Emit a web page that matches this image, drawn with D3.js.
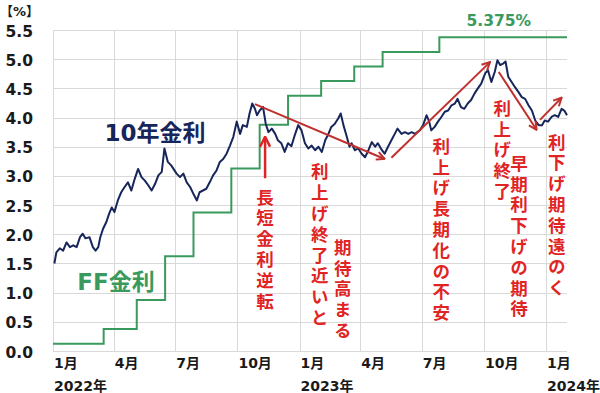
<!DOCTYPE html>
<html>
<head>
<meta charset="utf-8">
<script src="https://cdn.jsdelivr.net/npm/d3@7"></script>
<style>
  body { margin: 0; background: #fff; }
  text { font-family: "DejaVu Sans", "Noto Sans CJK JP", sans-serif; font-weight: bold; }
</style>
</head>
<body>
<script>
// 米10年金利
const yieldDates = [
  "2022-01-03","2022-01-06","2022-01-11","2022-01-16","2022-01-21","2022-01-26","2022-01-31",
  "2022-02-05","2022-02-10","2022-02-14","2022-02-18","2022-02-24","2022-03-01","2022-03-05",
  "2022-03-09","2022-03-12","2022-03-16","2022-03-21","2022-03-25","2022-03-29","2022-04-02",
  "2022-04-07","2022-04-12","2022-04-17","2022-04-22","2022-04-27","2022-05-02","2022-05-07",
  "2022-05-12","2022-05-17","2022-05-22","2022-05-27","2022-06-01","2022-06-06","2022-06-11",
  "2022-06-15","2022-06-20","2022-06-25","2022-07-03","2022-07-08","2022-07-13","2022-07-18",
  "2022-07-23","2022-07-28","2022-08-02","2022-08-06","2022-08-11","2022-08-16","2022-08-21",
  "2022-08-26","2022-08-31","2022-09-05","2022-09-10","2022-09-15","2022-09-20","2022-09-25",
  "2022-09-30","2022-10-05","2022-10-09","2022-10-15","2022-10-19","2022-10-23","2022-10-27",
  "2022-10-30","2022-11-03","2022-11-08","2022-11-12","2022-11-16","2022-11-21","2022-11-26",
  "2022-11-30","2022-12-05","2022-12-10","2022-12-15","2022-12-20","2022-12-25","2022-12-30",
  "2023-01-04","2023-01-09","2023-01-14","2023-01-19","2023-01-24","2023-01-29","2023-02-03",
  "2023-02-08","2023-02-12","2023-02-17","2023-02-22","2023-02-27","2023-03-03","2023-03-07",
  "2023-03-12","2023-03-16","2023-03-19","2023-03-24","2023-03-29","2023-04-03","2023-04-08",
  "2023-04-13","2023-04-18","2023-04-23","2023-04-27","2023-05-03","2023-05-07","2023-05-12",
  "2023-05-17","2023-05-22","2023-05-26","2023-06-01","2023-06-06","2023-06-11","2023-06-16",
  "2023-06-21","2023-06-28","2023-07-03","2023-07-08","2023-07-12","2023-07-15","2023-07-20",
  "2023-07-25","2023-07-30","2023-08-04","2023-08-09","2023-08-14","2023-08-19","2023-08-23",
  "2023-08-28","2023-09-02","2023-09-07","2023-09-12","2023-09-17","2023-09-22","2023-09-27",
  "2023-10-03","2023-10-07","2023-10-12","2023-10-17","2023-10-21","2023-10-25","2023-10-30",
  "2023-11-02","2023-11-06","2023-11-11","2023-11-16","2023-11-21","2023-11-26","2023-12-01",
  "2023-12-06","2023-12-11","2023-12-16","2023-12-21","2023-12-26","2023-12-30","2024-01-04",
  "2024-01-09","2024-01-14","2024-01-19","2024-01-24","2024-01-28","2024-02-01"
];
const yieldValues = [
  1.50,1.69,1.76,1.72,1.86,1.78,1.81,
  1.78,1.95,2.01,1.93,1.95,1.78,1.72,
  1.78,1.95,2.09,2.21,2.35,2.46,2.38,
  2.58,2.72,2.81,2.89,2.75,2.95,3.12,
  2.98,2.92,2.84,2.75,2.86,3.01,3.07,
  3.47,3.24,3.18,3.04,2.98,3.04,2.89,
  2.81,2.69,2.58,2.72,2.75,2.78,2.89,
  3.01,3.09,3.24,3.29,3.38,3.52,3.67,
  3.93,3.72,3.87,3.84,4.07,4.24,4.15,
  4.04,4.12,4.18,3.89,3.75,3.81,3.72,
  3.61,3.56,3.41,3.56,3.51,3.70,3.87,
  3.78,3.56,3.47,3.52,3.44,3.50,3.41,
  3.61,3.70,3.84,3.89,3.98,4.07,3.87,
  3.67,3.50,3.56,3.44,3.47,3.38,3.32,
  3.44,3.58,3.50,3.56,3.44,3.38,3.50,
  3.61,3.72,3.81,3.72,3.75,3.72,3.75,
  3.72,3.78,3.87,4.04,3.93,3.78,3.84,
  3.93,4.01,4.10,4.12,4.21,4.24,4.32,
  4.18,4.15,4.24,4.30,4.41,4.50,4.58,
  4.76,4.81,4.61,4.78,4.98,4.90,4.93,
  4.96,4.70,4.61,4.52,4.44,4.35,4.32,
  4.21,4.12,3.95,3.87,3.87,3.95,3.93,
  4.01,4.04,4.01,4.15,4.12,4.04
];

// FF金利 (誘導目標の中央値)
const ffDates = [
  "2022-01-01","2022-03-17","2022-05-05","2022-06-16","2022-07-28","2022-09-22",
  "2022-11-03","2022-12-15","2023-02-02","2023-03-23","2023-05-04","2023-07-27","2024-02-01"
];
const ffValues = [0.125,0.375,0.875,1.625,2.375,3.125,3.875,4.375,4.625,4.875,5.125,5.375,5.375];

const yTicks = [0,0.5,1,1.5,2,2.5,3,3.5,4,4.5,5,5.5];
const monthTicks = ["2022-01-01","2022-04-01","2022-07-01","2022-10-01","2023-01-01",
                    "2023-04-01","2023-07-01","2023-10-01","2024-01-01"];
const monthLabels = ["1月","4月","7月","10月","1月","4月","7月","10月","1月"];
const yearTicks = ["2022-01-01","2023-01-01","2024-01-01"];
const yearLabels = ["2022年","2023年","2024年"];

// 注釈（縦書き）: 位置はデータ座標、value は1文字目の中心
const notes = [
  { date: "2022-11-11", value: 2.64, text: "長短金利逆転" },
  { date: "2023-01-31", value: 3.07, text: "利上げ終了近いと" },
  { date: "2023-03-06", value: 1.78, text: "期待高まる" },
  { date: "2023-07-30", value: 3.51, text: "利上げ長期化の不安" },
  { date: "2023-10-28", value: 4.16, text: "利上げ終了" },
  { date: "2023-11-22", value: 3.22, text: "早期利下げの期待" },
  { date: "2024-01-17", value: 3.58, text: "利下げ期待遠のく" }
];
const trendArrows = [
  ["2022-10-27", 4.23, "2023-05-07", 3.29],
  ["2023-05-17", 3.31, "2023-10-10", 4.95],
  ["2023-10-23", 4.78, "2023-12-18", 3.79],
  ["2023-12-23", 3.96, "2024-01-24", 4.34]
];
const inversionArrow = ["2022-11-11", 2.96, 3.67];

const W = 600, H = 393;
const parse = d3.timeParse("%Y-%m-%d");

const svg = d3.select("body").append("svg")
  .attr("width", W).attr("height", H)
  .style("background", "#fff");

const x = d3.scaleTime()
  .domain([parse("2022-01-01"), parse("2024-02-01")])
  .range([53, 567]);
const y = d3.scaleLinear().domain([0, 5.5]).range([351, 30]);

// grid
const grid = svg.append("g").attr("stroke", "#d9d9d9").attr("stroke-width", 1);
grid.selectAll("line.h").data(yTicks).join("line")
  .attr("x1", x.range()[0]).attr("x2", x.range()[1])
  .attr("y1", d => Math.round(y(d)) + 0.5).attr("y2", d => Math.round(y(d)) + 0.5);
grid.selectAll("line.v").data(monthTicks).join("line")
  .attr("x1", d => Math.round(x(parse(d))) + 0.5).attr("x2", d => Math.round(x(parse(d))) + 0.5)
  .attr("y1", y(5.5)).attr("y2", y(0));

// y labels
svg.append("g").selectAll("text").data(yTicks).join("text")
  .attr("x", 33).attr("y", d => y(d) + 1.5)
  .attr("text-anchor", "end").attr("dominant-baseline", "central")
  .attr("font-size", 15.5).attr("fill", "#1a1a1a")
  .text(d => d.toFixed(1));

svg.append("text").attr("x", 0).attr("y", 11)
  .attr("dominant-baseline", "central").attr("font-size", 13).attr("fill", "#1a1a1a")
  .text("【%】");

// x labels
svg.append("g").selectAll("text").data(monthTicks).join("text")
  .attr("x", d => x(parse(d)) + 1).attr("y", 368)
  .attr("font-size", 14).attr("fill", "#1a1a1a")
  .text((d, i) => monthLabels[i]);
svg.append("g").selectAll("text").data(yearTicks).join("text")
  .attr("x", d => x(parse(d)) + 1).attr("y", 391)
  .attr("font-size", 14).attr("fill", "#1a1a1a")
  .text((d, i) => yearLabels[i]);

// FF line
const ffData = ffDates.map((d, i) => ({ date: parse(d), v: ffValues[i] }));
svg.append("path").datum(ffData)
  .attr("fill", "none").attr("stroke", "#3a9a5e").attr("stroke-width", 2)
  .attr("d", d3.line().x(d => x(d.date)).y(d => y(d.v)).curve(d3.curveStepAfter));

// 10Y line
const yData = yieldDates.map((d, i) => ({ date: parse(d), v: yieldValues[i] }));
svg.append("path").datum(yData)
  .attr("fill", "none").attr("stroke", "#17265a").attr("stroke-width", 2)
  .attr("stroke-linejoin", "round")
  .attr("d", d3.line().x(d => x(d.date)).y(d => y(d.v)));

// series labels
svg.append("text").attr("x", 155).attr("y", 133)
  .attr("text-anchor", "middle").attr("dominant-baseline", "central")
  .attr("font-size", 23).attr("fill", "#17265a").text("10年金利");
svg.append("text").attr("x", 116).attr("y", 282)
  .attr("text-anchor", "middle").attr("dominant-baseline", "central")
  .attr("font-size", 23).attr("fill", "#3a9a5e").text("FF金利");
svg.append("text").attr("x", x(parse("2023-10-23"))).attr("y", 21)
  .attr("text-anchor", "middle").attr("dominant-baseline", "central")
  .attr("font-size", 15.5).attr("fill", "#3a9a5e").text(ffValues[ffValues.length - 1] + "%");

// arrow markers
const defs = svg.append("defs");
function marker(id, color) {
  defs.append("marker").attr("id", id)
    .attr("viewBox", "0 0 10 10").attr("refX", 9).attr("refY", 5)
    .attr("markerWidth", 5).attr("markerHeight", 5).attr("orient", "auto")
    .attr("markerUnits", "strokeWidth")
    .append("path").attr("d", "M1,1 L9,5 L1,9").attr("fill", "none")
    .attr("stroke", color).attr("stroke-width", 2);
}
marker("trend", "#c0302e");
marker("up", "#e02424");

svg.append("g").selectAll("line").data(trendArrows).join("line")
  .attr("x1", d => x(parse(d[0]))).attr("y1", d => y(d[1]))
  .attr("x2", d => x(parse(d[2]))).attr("y2", d => y(d[3]))
  .attr("stroke", "#c0302e").attr("stroke-width", 2)
  .attr("marker-end", "url(#trend)");

svg.append("line")
  .attr("x1", x(parse(inversionArrow[0]))).attr("x2", x(parse(inversionArrow[0])))
  .attr("y1", y(inversionArrow[1])).attr("y2", y(inversionArrow[2]))
  .attr("stroke", "#e02424").attr("stroke-width", 2.5)
  .attr("marker-end", "url(#up)");

// vertical notes, one text element per column
const fs = 17.5, step = 20.8;
svg.append("g").selectAll("text").data(notes).join("text")
  .attr("x", d => x(parse(d.date)))
  .attr("y", d => y(d.value) - step / 2 + (step - fs) / 2)
  .attr("writing-mode", "vertical-rl")
  .style("writing-mode", "vertical-rl")
  .style("font-family", "'Noto Sans CJK JP', sans-serif")
  .style("letter-spacing", (step - fs) + "px")
  .attr("font-size", fs)
  .attr("fill", "#e02424")
  .text(d => d.text);
</script>
</body>
</html>
